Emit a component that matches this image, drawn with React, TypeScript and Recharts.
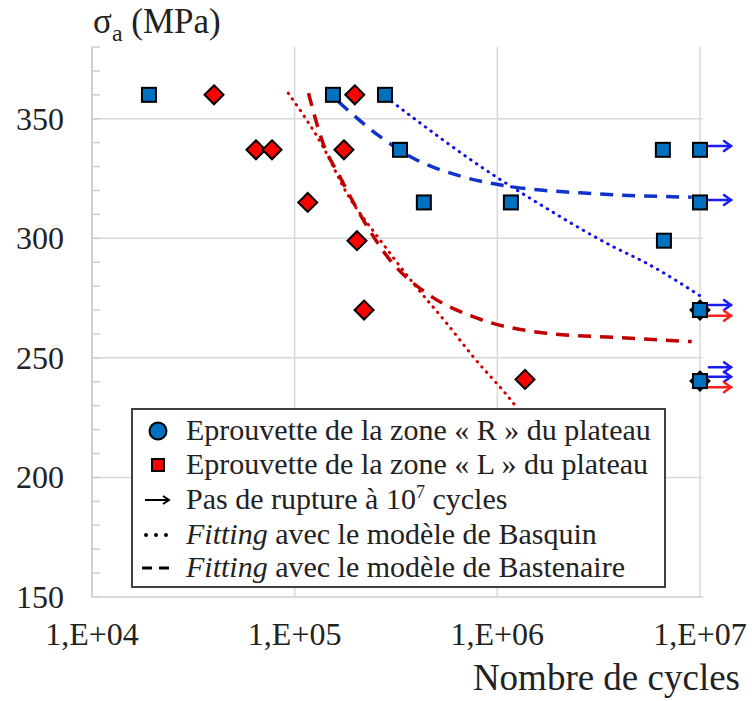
import React from 'react';
import { ComposedChart, XAxis, YAxis, Scatter, Line, ReferenceLine, Legend } from 'recharts';

// ---- Data (N = number of cycles, S = stress amplitude in MPa) ----
const zoneR_N = [1.91e4, 1.545e5, 2.79e5, 3.31e5, 4.34e5, 1.167e6, 6.56e6, 1e7, 1e7, 6.64e6, 1e7, 1e7];
const zoneR_S = [360, 360, 360, 337, 315, 315, 337, 337, 315, 299, 270, 240.3];

const zoneL_N = [4.0e4, 6.44e4, 7.73e4, 1.16e5, 1.75e5, 1.98e5, 2.03e5, 2.2e5, 1.37e6, 1e7, 1e7];
const zoneL_S = [360, 337, 337, 315, 337, 360, 299, 270, 241, 270, 240.3];

const basquinR_N = [3.01e5, 9.54e5, 1.5e6, 3.73e6, 5.45e6, 1.02e7];
const basquinR_S = [357.2, 326.5, 316, 296.5, 289.6, 275.5];

const bastenaireR_N = [1.64e5, 2.64e5, 3.83e5, 6.77e5, 1.19e6, 2.56e6, 7.96e6, 9.1e6];
const bastenaireR_S = [357.2, 342.5, 333.6, 325.7, 321.5, 319, 317.3, 317.2];

const basquinL_N = [9.3e4, 1.38e5, 1.81e5, 2.64e5, 3.85e5, 5.62e5, 7.6e5, 1.26e6, 1.45e6];
const basquinL_S = [360.7, 338.3, 318.8, 299.3, 281.2, 264.5, 250.5, 228.6, 221];

const bastenaireL_N = [1.17e5, 1.38e5, 1.67e5, 2.18e5, 2.95e5, 4.48e5, 7.6e5, 1.75e6, 3.73e6, 9.1e6];
const bastenaireL_S = [360.7, 339.8, 325.8, 307.7, 291, 277, 267.2, 260.3, 258.6, 256.8];

const runoutR_N = [1e7, 1e7, 1e7, 1e7, 1e7];
const runoutR_S = [338.6, 316, 272.1, 246.1, 242.1];
const runoutL_N = [1e7, 1e7];
const runoutL_S = [267.6, 237.7];

const xTicks = [1e4, 1e5, 1e6, 1e7];
const xTickLabels = ['1,E+04', '1,E+05', '1,E+06', '1,E+07'];
const yTicks = [150, 160, 170, 180, 190, 200, 210, 220, 230, 240, 250, 260, 270, 280, 290, 300, 310, 320, 330, 340, 350, 360, 370, 380];
const yLabelTicks = [150, 200, 250, 300, 350];
const yGrid = [200, 250, 300, 350];
const xGrid = [1e5, 1e6, 1e7];

const legendLabels = [
  'Eprouvette de la zone « R » du plateau',
  'Eprouvette de la zone « L » du plateau',
  'Pas de rupture à 10',
  'avec le modèle de Basquin',
  'avec le modèle de Bastenaire',
];

const toPts = (xs: number[], ys: number[]) => xs.map((x, i) => ({ x, y: ys[i] }));

const SERIF: React.CSSProperties = { fontFamily: 'Liberation Serif, Times New Roman, DejaVu Serif, serif' };
const GRID = '#d9d9d9';

const Square = (p: any) => (
  <rect x={p.cx - 7} y={p.cy - 7} width={14} height={14} fill="#0070C0" stroke="#000" strokeWidth={2} />
);
const Diamond = (p: any) => (
  <polygon
    points={`${p.cx},${p.cy - 9.5} ${p.cx + 9.5},${p.cy} ${p.cx},${p.cy + 9.5} ${p.cx - 9.5},${p.cy}`}
    fill="#FF0000"
    stroke="#000"
    strokeWidth={2}
  />
);
const makeArrow = (color: string) => (p: any) => (
  <g stroke={color} strokeWidth={2.5} fill="none" strokeLinecap="round">
    <line x1={p.cx + 9} y1={p.cy} x2={p.cx + 31} y2={p.cy} />
    <polyline points={`${p.cx + 24},${p.cy - 5} ${p.cx + 31},${p.cy} ${p.cx + 24},${p.cy + 5}`} />
  </g>
);

const YTick = (props: any) => {
  const { y, payload } = props;
  const v = payload.value;
  return (
    <g>
      <line x1={92} x2={100} y1={y} y2={y} stroke="#cfcfcf" strokeWidth={1.5} />
      {yLabelTicks.includes(v) && (
        <text x={64} y={y + 11} textAnchor="end" fontSize={32} style={SERIF} fill="#222">
          {v}
        </text>
      )}
    </g>
  );
};

const XTick = (props: any) => {
  const { x, payload } = props;
  const idx = xTicks.indexOf(payload.value);
  return (
    <text x={x} y={645} textAnchor="middle" fontSize={32} style={SERIF} fill="#222">
      {xTickLabels[idx]}
    </text>
  );
};

const LegendBox = () => {
  const rows = [23, 57, 92, 127, 160];
  const tx = 55;
  const fs = 30;
  const by = (r: number) => r + 9;
  return (
    <svg width={536} height={181} style={{ display: 'block' }}>
      <rect x={1} y={1} width={533} height={178} fill="#fff" stroke="#404040" strokeWidth={2} />
      <circle cx={27} cy={rows[0]} r={8.5} fill="#0070C0" stroke="#000" strokeWidth={2} />
      <rect x={21} y={rows[1] - 6} width={12} height={12} fill="#FF0000" stroke="#000" strokeWidth={2} />
      <g stroke="#000" strokeWidth={2} fill="none">
        <line x1={14} y1={rows[2]} x2={38} y2={rows[2]} />
        <polyline points={`32,${rows[2] - 4} 38,${rows[2]} 32,${rows[2] + 4}`} />
      </g>
      <g fill="#000">
        <circle cx={15} cy={rows[3]} r={2} />
        <circle cx={25} cy={rows[3]} r={2} />
        <circle cx={35} cy={rows[3]} r={2} />
      </g>
      <g stroke="#000" strokeWidth={3}>
        <line x1={11} y1={rows[4]} x2={21} y2={rows[4]} />
        <line x1={28} y1={rows[4]} x2={38} y2={rows[4]} />
      </g>
      <g fontSize={fs} fill="#222" style={SERIF}>
        <text x={tx} y={by(rows[0])}>{legendLabels[0]}</text>
        <text x={tx} y={by(rows[1])}>{legendLabels[1]}</text>
        <text x={tx} y={by(rows[2])}>
          {legendLabels[2]}
          <tspan dy={-11} fontSize={18}>7</tspan>
          <tspan dy={11}> cycles</tspan>
        </text>
        <text x={tx} y={by(rows[3])}>
          <tspan fontStyle="italic">Fitting</tspan> {legendLabels[3]}
        </text>
        <text x={tx} y={by(rows[4])}>
          <tspan fontStyle="italic">Fitting</tspan> {legendLabels[4]}
        </text>
      </g>
    </svg>
  );
};

export default function App() {
  return (
    <div style={{ position: 'absolute', left: 0, top: 0, width: 752, height: 701, background: '#fff' }}>
      <ComposedChart width={752} height={701} margin={{ top: 47, right: 49, bottom: 0, left: 0 }}>
        <XAxis
          dataKey="x"
          type="number"
          scale="log"
          domain={[1e4, 1.035e7]}
          ticks={xTicks}
          height={104}
          axisLine={{ stroke: GRID, strokeWidth: 2 }}
          tickLine={false}
          tick={<XTick />}
          label={{
            content: () => (
              <text x={740} y={690} textAnchor="end" fontSize={37} style={SERIF} fill="#222">
                Nombre de cycles
              </text>
            ),
          }}
        />
        <YAxis
          dataKey="y"
          type="number"
          domain={[150, 380]}
          ticks={yTicks}
          interval={0}
          width={92}
          axisLine={{ stroke: '#cfcfcf', strokeWidth: 2 }}
          tickLine={false}
          tick={<YTick />}
          label={{
            content: () => (
              <text x={93} y={33} fontSize={35} style={SERIF} fill="#222">
                σ<tspan dy={8} fontSize={24}>a</tspan>
                <tspan dy={-8}> (MPa)</tspan>
              </text>
            ),
          }}
        />
        {yGrid.map((v) => (
          <ReferenceLine key={'hy' + v} y={v} stroke={GRID} strokeWidth={1.5} />
        ))}
        {xGrid.map((v) => (
          <ReferenceLine key={'vx' + v} x={v} stroke={GRID} strokeWidth={1.5} />
        ))}
        <Line
          data={toPts(basquinL_N, basquinL_S)}
          dataKey="y"
          type="monotone"
          dot={false}
          stroke="#D00000"
          strokeWidth={3}
          strokeDasharray="0.5 6.5"
          strokeLinecap="round"
          isAnimationActive={false}
          legendType="none"
        />
        <Line
          data={toPts(bastenaireL_N, bastenaireL_S)}
          dataKey="y"
          type="monotone"
          dot={false}
          stroke="#C00000"
          strokeWidth={3.5}
          strokeDasharray="13 9"
          isAnimationActive={false}
          legendType="none"
        />
        <Line
          data={toPts(basquinR_N, basquinR_S)}
          dataKey="y"
          type="monotone"
          dot={false}
          stroke="#1010E0"
          strokeWidth={3}
          strokeDasharray="0.5 6.5"
          strokeLinecap="round"
          isAnimationActive={false}
          legendType="none"
        />
        <Line
          data={toPts(bastenaireR_N, bastenaireR_S)}
          dataKey="y"
          type="monotone"
          dot={false}
          stroke="#1033CC"
          strokeWidth={3.5}
          strokeDasharray="13 9"
          isAnimationActive={false}
          legendType="none"
        />
        <Scatter data={toPts(zoneL_N, zoneL_S)} dataKey="y" shape={Diamond} isAnimationActive={false} legendType="none" />
        <Scatter data={toPts(zoneR_N, zoneR_S)} dataKey="y" shape={Square} isAnimationActive={false} legendType="none" />
        <Scatter data={toPts(runoutR_N, runoutR_S)} dataKey="y" shape={makeArrow('#1a1aff')} isAnimationActive={false} legendType="none" />
        <Scatter data={toPts(runoutL_N, runoutL_S)} dataKey="y" shape={makeArrow('#ff2020')} isAnimationActive={false} legendType="none" />
        <Legend
          layout="horizontal"
          verticalAlign="middle"
          align="center"
          content={() => <LegendBox />}
          wrapperStyle={{ position: 'absolute', left: 131, top: 408, width: 536, height: 181 }}
        />
      </ComposedChart>
    </div>
  );
}
